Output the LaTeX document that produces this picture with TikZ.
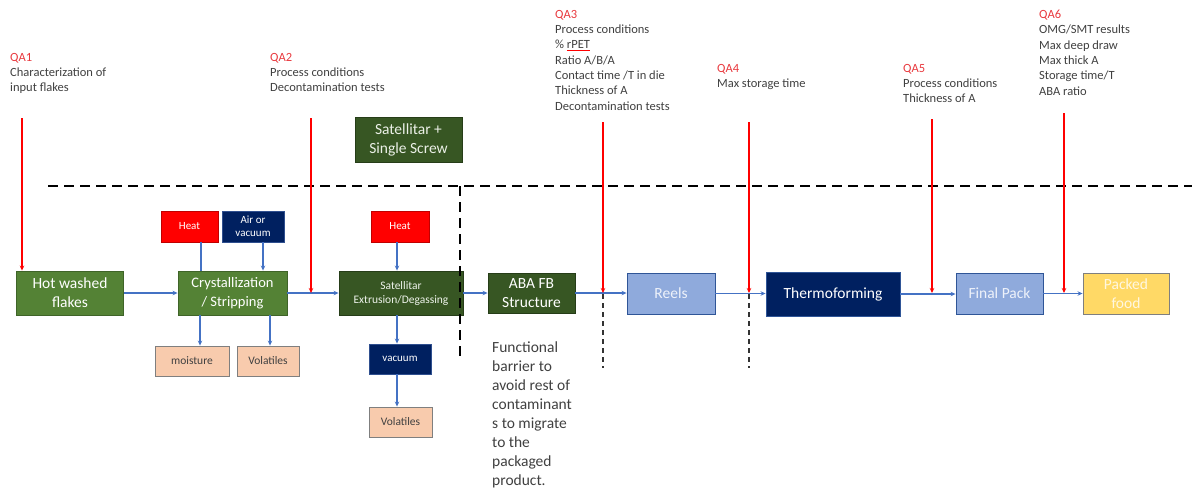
\documentclass[tikz,border=0pt]{standalone}
\usepackage{fontspec}
\setmainfont{Carlito}
\usetikzlibrary{arrows.meta}
\definecolor{txtgray}{HTML}{404040}
\definecolor{qared}{HTML}{E8383D}
\definecolor{gmid}{HTML}{548235}
\definecolor{gmidb}{HTML}{3F6428}
\definecolor{gdark}{HTML}{375623}
\definecolor{gdarkb}{HTML}{263D18}
\definecolor{navy}{HTML}{002060}
\definecolor{navyb}{HTML}{2F4F8F}
\definecolor{hred}{HTML}{FF0000}
\definecolor{hredb}{HTML}{C00000}
\definecolor{peach}{HTML}{F8CBAD}
\definecolor{peachb}{HTML}{7F7F7F}
\definecolor{lblue}{HTML}{8FAADC}
\definecolor{lblueb}{HTML}{2F5597}
\definecolor{ylw}{HTML}{FFD966}
\definecolor{ylwb}{HTML}{7F7F7F}
\definecolor{flowblue}{HTML}{4472C4}
\begin{document}
\begin{tikzpicture}[x=1pt,y=-1pt,
  box/.style={draw, line width=0.9pt, inner sep=1pt, align=center, text=white},
  gbox/.style={box, fill=gmid, draw=gmidb, font=\fontsize{15.5}{19}\selectfont},
  dgbox/.style={box, fill=gdark, draw=gdarkb, font=\fontsize{15.5}{19}\selectfont},
  redbox/.style={box, fill=hred, draw=hredb, font=\fontsize{11}{12.5}\selectfont},
  navybox/.style={box, fill=navy, draw=navyb, font=\fontsize{11}{12.5}\selectfont},
  peachbox/.style={box, fill=peach, draw=peachb, text=txtgray, font=\fontsize{11.5}{13}\selectfont},
  bluebox/.style={box, fill=lblue, draw=lblueb, text=white!85!lblue, font=\fontsize{15.5}{19}\selectfont},
  qatext/.style={anchor=north west, inner sep=0pt, align=left, text=txtgray, font=\fontsize{12.5}{15.3}\selectfont},
  flow/.style={draw=flowblue, line width=1.2pt, -{Stealth[length=5pt,width=4.5pt]}},
  link/.style={draw=flowblue, line width=1.2pt},
  qa/.style={draw=hred, line width=1.4pt, -{Stealth[length=5pt,width=4.5pt]}},
  bigdash/.style={draw=black, line width=2pt, dash pattern=on 10pt off 6pt},
  smalldash/.style={draw=black!80, line width=1.6pt, dash pattern=on 5pt off 4pt}
]
\useasboundingbox (0,0) rectangle (1192,488);

% dashed boundaries
\coordinate (hl) at (48,186);
\coordinate (hr) at (1192,186);
\draw[bigdash] (hl) -- (hr);
\coordinate (v2t) at (603,186);
\coordinate (v2b) at (603,368);
\draw[smalldash] (v2t) -- (v2b);
\coordinate (v3t) at (749,186);
\coordinate (v3b) at (749,368);
\draw[smalldash] (v3t) -- (v3b);

% main boxes
\node[gbox, minimum width=107pt, minimum height=44pt] (hot) at (70,293) {Hot washed\\flakes};
\node[gbox, minimum width=109pt, minimum height=44pt, font=\fontsize{14.5}{19}\selectfont] (cry) at (232.5,293) {Crystallization\\/ Stripping};
\node[redbox, minimum width=57pt, minimum height=31pt] (heat1) at (189.5,226.5) {Heat};
\node[navybox, minimum width=62pt, minimum height=31pt] (air) at (253,226.5) {Air or\\vacuum};
\node[peachbox, minimum width=74pt, minimum height=30pt] (moist) at (192,361) {moisture};
\node[peachbox, minimum width=62pt, minimum height=30pt] (vol1) at (268,361) {Volatiles};
\node[dgbox, minimum width=124pt, minimum height=44pt, font=\fontsize{11.5}{14}\selectfont, text=white!90!gmid] (sat) at (401,293) {Satellitar\\Extrusion/Degassing};
\node[redbox, minimum width=58pt, minimum height=31pt] (heat2) at (400,226.5) {Heat};
\node[navybox, minimum width=62pt, minimum height=30pt] (vac) at (400,359) {vacuum};
\node[peachbox, minimum width=63pt, minimum height=30pt] (vol2) at (400.5,422) {Volatiles};
\node[dgbox, minimum width=107pt, minimum height=45pt, text=white!88!gmid] (ss) at (408.5,139.5) {Satellitar +\\Single Screw};
\node[dgbox, minimum width=87pt, minimum height=40pt] (aba) at (531.5,293) {ABA FB\\Structure};
\node[bluebox, minimum width=88pt, minimum height=41pt] (reels) at (671,293.5) {Reels};
\node[box, fill=navy, draw=lblueb, minimum width=134pt, minimum height=44pt, font=\fontsize{15.5}{19}\selectfont] (thermo) at (833,294) {Thermoforming};
\node[bluebox, minimum width=87pt, minimum height=41pt] (fp) at (999.5,293.5) {Final Pack};
\node[box, fill=ylw, draw=ylwb, text=white!80!ylw, minimum width=86pt, minimum height=41pt, font=\fontsize{15.5}{19}\selectfont] (pf) at (1126,293.5) {Packed\\food};

% boundary between extrusion and structure (drawn over the box edge)
\coordinate (v1t) at (460,186);
\coordinate (v1b) at (460,357);
\draw[bigdash] (v1t) -- (v1b);

% flow connectors
\draw[flow] (hot.east) -- (hot.east -| cry.west);
\draw[flow] (cry.east) -- (cry.east -| sat.west);
\draw[flow] (sat.east) -- (sat.east -| aba.west);
\draw[flow] (aba.east) -- (aba.east -| reels.west);
\draw[flow] (reels.east) -- (reels.east -| thermo.west);
\draw[flow] (thermo.east) -- (thermo.east -| fp.west);
\draw[flow] (fp.east) -- (fp.east -| pf.west);

% side connectors
\draw[link] (heat1.south -| 201,0) -- (cry.north -| 201,0);
\draw[flow] (air.south -| 263,0) -- (cry.north -| 263,0);
\draw[flow] (cry.south -| 200,0) -- (moist.north -| 200,0);
\draw[flow] (cry.south -| 270,0) -- (vol1.north -| 270,0);
\draw[flow] (heat2.south -| 397,0) -- (sat.north -| 397,0);
\draw[flow] (sat.south -| 397,0) -- (vac.north -| 397,0);
\draw[flow] (vac.south -| 397,0) -- (vol2.north -| 397,0);

% QA arrows
\coordinate (q1t) at (22,118);
\draw[qa] (q1t) -- (hot.north -| q1t);
\coordinate (q2t) at (311,118);
\coordinate (q2e) at (311,293);
\draw[qa] (q2t) -- (q2e);
\coordinate (q3t) at (603,122);
\coordinate (q3e) at (603,293);
\draw[qa] (q3t) -- (q3e);
\coordinate (q4t) at (749,122);
\coordinate (q4e) at (749,293);
\draw[qa] (q4t) -- (q4e);
\coordinate (q5t) at (932,119);
\coordinate (q5e) at (932,293);
\draw[qa] (q5t) -- (q5e);
\coordinate (q6t) at (1064,113);
\coordinate (q6e) at (1064,293);
\draw[qa] (q6t) -- (q6e);

% QA texts
\node[qatext] (t1) at (10,53) {\textcolor{qared}{QA1}\\Characterization of\\input flakes};
\node[qatext] (t2) at (270,53) {\textcolor{qared}{QA2}\\Process conditions\\Decontamination tests};
\node[qatext] (t3) at (555,10) {\textcolor{qared}{QA3}\\Process conditions\\\% {\color{hred}\underline{\textcolor{txtgray}{rPET}}}\\Ratio A/B/A\\Contact time /T in die\\Thickness of A\\Decontamination tests};
\node[qatext] (t4) at (717,64) {\textcolor{qared}{QA4}\\Max storage time};
\node[qatext] (t5) at (903,64) {\textcolor{qared}{QA5}\\Process conditions\\Thickness of A};
\node[qatext] (t6) at (1039,10) {\textcolor{qared}{QA6}\\OMG/SMT results\\Max deep draw\\Max thick A\\Storage time/T\\ABA ratio};

% note
\node[qatext, font=\fontsize{15.5}{18.9}\selectfont] (note) at (492,342) {Functional\\barrier to\\avoid rest of\\contaminant\\s to migrate\\to the\\packaged\\product.};
\end{tikzpicture}
\end{document}
